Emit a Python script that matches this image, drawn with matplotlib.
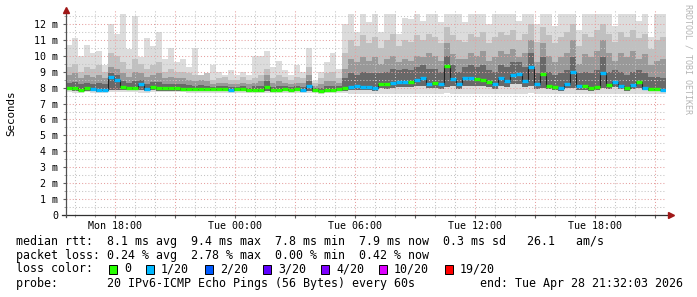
import numpy as np
import pandas as pd
import matplotlib
matplotlib.use('Agg')
import matplotlib.pyplot as plt
import matplotlib.dates as mdates
from matplotlib.ticker import MultipleLocator, FuncFormatter
from matplotlib.patches import Rectangle

plt.rcParams['font.family'] = 'DejaVu Sans Mono'

# time range of the graph: 100 steps of 18 minutes
start = pd.Timestamp('2026-04-27 15:32')
step = '18min'

# median rtt per step (ms)
median = [8.00, 7.95, 7.88, 7.95, 7.90, 7.85, 7.88, 8.65, 8.50, 8.05,
          7.98, 7.98, 8.25, 7.92, 8.05, 7.95, 7.95, 7.95, 7.95, 7.93,
          7.90, 7.93, 7.90, 7.90, 7.90, 7.92, 7.90, 7.88, 7.90, 7.90,
          7.85, 7.88, 7.85, 8.07, 7.85, 7.88, 7.90, 7.88, 7.90, 7.85,
          8.12, 7.85, 7.82, 7.85, 7.85, 7.92, 8.00, 8.05, 8.10, 8.05,
          8.05, 7.97, 8.22, 8.20, 8.30, 8.38, 8.35, 8.33, 8.50, 8.60,
          8.22, 8.30, 8.20, 9.38, 8.55, 8.20, 8.60, 8.62, 8.55, 8.50,
          8.35, 8.20, 8.62, 8.42, 8.80, 8.88, 8.45, 9.27, 8.20, 8.87,
          8.12, 8.05, 8.00, 8.24, 8.97, 8.10, 8.10, 7.95, 8.05, 8.92,
          8.15, 8.35, 8.12, 7.95, 8.15, 8.33, 8.00, 7.92, 7.92, 7.88]

# lost pings (out of 20) per step
loss = [0, 0, 0, 0, 1, 1, 1, 1, 1, 0,
        0, 0, 1, 1, 0, 0, 0, 0, 0, 0,
        0, 0, 0, 0, 0, 0, 0, 1, 0, 0,
        0, 0, 0, 0, 0, 0, 0, 0, 0, 1,
        1, 0, 0, 0, 0, 0, 0, 1, 1, 1,
        1, 1, 0, 0, 1, 1, 1, 0, 1, 1,
        1, 0, 1, 0, 1, 1, 1, 1, 0, 0,
        0, 1, 1, 1, 1, 1, 1, 1, 1, 0,
        0, 0, 1, 1, 1, 1, 0, 0, 0, 1,
        0, 1, 1, 0, 1, 0, 1, 0, 0, 1]

# smoke: slowest ping, percentiles, fastest ping (ms)
ping_max = [10.7, 11.15, 10.0, 10.7, 10.2, 10.3, 9.4, 12.0, 11.4, 12.6,
            10.4, 12.5, 9.9, 11.1, 10.6, 11.5, 9.8, 10.5, 9.6, 9.8,
            9.3, 10.5, 8.6, 8.9, 9.4, 9.0, 8.8, 9.1, 8.8, 9.0,
            8.8, 10.0, 10.0, 10.3, 9.3, 9.7, 9.1, 8.8, 9.4, 9.0,
            10.5, 8.4, 9.0, 9.6, 10.2, 9.2, 12.0, 12.6, 11.5, 12.6,
            12.1, 12.6, 11.5, 12.6, 12.6, 11.4, 12.4, 12.3, 12.6, 12.2,
            12.6, 12.6, 12.1, 12.6, 12.6, 12.6, 12.1, 12.6, 12.6, 12.6,
            12.0, 12.6, 12.6, 12.6, 12.6, 12.2, 12.6, 12.6, 12.0, 12.6,
            12.6, 11.9, 12.6, 12.6, 12.6, 11.6, 12.6, 12.6, 12.6, 12.6,
            12.6, 11.9, 12.6, 12.6, 12.6, 12.2, 12.6, 11.2, 12.6, 12.6]

ping_p90 = [9.3, 9.5, 9.0, 9.3, 9.2, 9.4, 9.0, 10.2, 10.0, 9.6,
            9.2, 9.8, 9.5, 9.2, 9.4, 9.6, 9.0, 9.2, 9.0, 9.0,
            8.9, 8.8, 8.8, 8.9, 8.5, 8.6, 8.7, 8.5, 8.5, 8.7,
            8.5, 8.6, 8.8, 9.2, 8.6, 8.8, 8.7, 8.5, 8.7, 8.6,
            9.3, 8.3, 8.6, 8.9, 9.0, 8.6, 10.2, 11.0, 10.6, 11.3,
            10.8, 11.2, 10.5, 11.0, 11.4, 10.6, 11.0, 10.9, 11.3, 11.0,
            11.4, 11.2, 10.8, 11.8, 11.3, 11.0, 10.9, 11.4, 11.2, 11.5,
            10.8, 11.2, 11.5, 11.3, 11.6, 11.0, 11.4, 12.0, 10.9, 11.8,
            11.3, 10.8, 11.2, 11.5, 12.0, 10.6, 11.4, 11.2, 11.6, 12.0,
            11.4, 10.9, 11.5, 11.2, 11.6, 11.1, 11.4, 10.4, 11.0, 11.2]

ping_p75 = [8.8, 8.9, 8.6, 8.8, 8.7, 8.8, 8.6, 9.3, 9.2, 8.9,
            8.7, 9.0, 8.9, 8.7, 8.8, 8.9, 8.6, 8.7, 8.6, 8.6,
            8.5, 8.4, 8.5, 8.4, 8.2, 8.3, 8.3, 8.2, 8.2, 8.3,
            8.2, 8.3, 8.4, 8.8, 8.3, 8.4, 8.3, 8.2, 8.3, 8.3,
            8.8, 8.1, 8.2, 8.4, 8.4, 8.3, 9.2, 9.8, 9.6, 9.9,
            9.7, 9.9, 9.5, 9.8, 10.0, 9.6, 9.8, 9.7, 10.0, 9.9,
            10.2, 10.0, 9.7, 10.8, 10.1, 9.8, 9.8, 10.2, 10.0, 10.3,
            9.7, 9.9, 10.3, 10.1, 10.4, 9.9, 10.2, 11.0, 9.6, 10.8,
            10.0, 9.6, 9.9, 10.2, 11.0, 9.5, 10.1, 9.9, 10.3, 11.0,
            10.2, 9.7, 10.2, 9.9, 10.3, 9.8, 10.1, 9.4, 9.7, 9.8]

ping_p60 = [8.3, 8.35, 8.2, 8.3, 8.25, 8.3, 8.2, 8.9, 8.8, 8.4,
            8.3, 8.4, 8.5, 8.25, 8.35, 8.35, 8.2, 8.25, 8.2, 8.2,
            8.15, 8.1, 8.15, 8.1, 8.05, 8.1, 8.1, 8.05, 8.05, 8.1,
            8.0, 8.1, 8.1, 8.4, 8.05, 8.1, 8.1, 8.05, 8.1, 8.05,
            8.4, 8.0, 8.0, 8.1, 8.1, 8.1, 8.6, 8.9, 8.8, 9.0,
            8.9, 8.9, 8.9, 9.0, 9.2, 9.1, 9.2, 9.1, 9.3, 9.4,
            9.2, 9.2, 9.0, 10.0, 9.4, 9.0, 9.3, 9.4, 9.3, 9.4,
            9.1, 9.0, 9.4, 9.3, 9.6, 9.6, 9.3, 10.2, 8.9, 9.9,
            9.0, 8.8, 8.9, 9.1, 9.9, 8.9, 9.0, 8.9, 9.1, 9.9,
            9.0, 9.1, 9.0, 8.8, 9.0, 9.1, 8.9, 8.7, 8.7, 8.6]

ping_p25 = [7.84, 7.80, 7.76, 7.80, 7.78, 7.74, 7.76, 7.86, 7.84, 7.86,
            7.84, 7.84, 7.84, 7.78, 7.86, 7.82, 7.82, 7.82, 7.82, 7.80,
            7.78, 7.80, 7.78, 7.78, 7.78, 7.80, 7.78, 7.76, 7.78, 7.78,
            7.74, 7.76, 7.74, 7.78, 7.74, 7.76, 7.78, 7.76, 7.78, 7.74,
            7.78, 7.74, 7.72, 7.74, 7.74, 7.78, 7.82, 7.84, 7.86, 7.84,
            7.84, 7.80, 7.96, 7.94, 8.00, 8.06, 8.04, 8.02, 8.10, 8.12,
            7.96, 8.00, 7.94, 8.04, 8.10, 7.94, 8.12, 8.12, 8.10, 8.08,
            8.02, 7.94, 8.12, 8.06, 8.20, 8.22, 8.06, 8.10, 7.94, 8.00,
            7.90, 7.86, 7.82, 7.96, 8.00, 7.88, 7.88, 7.80, 7.86, 7.96,
            7.92, 8.02, 7.90, 7.80, 7.92, 8.00, 7.84, 7.78, 7.78, 7.76]

ping_min = [7.70, 7.68, 7.66, 7.70, 7.66, 7.64, 7.66, 7.72, 7.70, 7.70,
            7.70, 7.70, 7.68, 7.66, 7.70, 7.70, 7.70, 7.70, 7.70, 7.70,
            7.68, 7.68, 7.68, 7.68, 7.68, 7.68, 7.68, 7.66, 7.68, 7.68,
            7.66, 7.66, 7.66, 7.68, 7.66, 7.66, 7.66, 7.66, 7.66, 7.64,
            7.66, 7.64, 7.62, 7.64, 7.64, 7.66, 7.64, 7.62, 7.62, 7.62,
            7.62, 7.60, 7.62, 7.62, 7.62, 7.62, 7.62, 7.62, 7.62, 7.62,
            7.60, 7.62, 7.60, 7.64, 7.62, 7.60, 7.62, 7.62, 7.62, 7.62,
            7.62, 7.60, 7.62, 7.62, 7.62, 7.62, 7.60, 7.64, 7.60, 7.62,
            7.60, 7.60, 7.60, 7.60, 7.62, 7.60, 7.60, 7.60, 7.60, 7.62,
            7.60, 7.60, 7.60, 7.60, 7.60, 7.60, 7.60, 7.60, 7.60, 7.60]

loss_labels = ['0', '1/20', '2/20', '3/20', '4/20', '10/20', '19/20']
loss_counts = [0, 1, 2, 3, 4, 10, 19]
loss_colors = ['#26ff00', '#00b8ff', '#0059ff', '#5e00ff', '#7e00ff', '#dd00ff', '#ff0000']

stats_rtt = 'median rtt:  8.1 ms avg  9.4 ms max  7.8 ms min  7.9 ms now  0.3 ms sd   26.1   am/s'
stats_loss = 'packet loss: 0.24 % avg  2.78 % max  0.00 % min  0.42 % now'
probe_text = 'probe:       20 IPv6-ICMP Echo Pings (56 Bytes) every 60s'
end_text = 'end: Tue Apr 28 21:32:03 2026'

# ---- figure ----
W, H = 697, 297
fig = plt.figure(figsize=(W / 100, H / 100), dpi=100)
fig.patch.set_facecolor('white')
ax = fig.add_axes([66 / W, 1 - 215 / H, 600 / W, 205 / H])

t = pd.date_range(start, periods=len(median) + 1, freq=step)
tn = mdates.date2num(t)

def ext(v):
    return list(v) + [v[-1]]

# smoke layers, light to dark
ax.fill_between(tn, ext(ping_min), ext(ping_max), step='post', color='#dcdcdc', lw=0, zorder=1)
ax.fill_between(tn, ext(ping_p25), ext(ping_p90), step='post', color='#c0c0c0', lw=0, zorder=1)
ax.fill_between(tn, ext(ping_p25), ext(ping_p75), step='post', color='#999999', lw=0, zorder=1)
ax.fill_between(tn, ext(ping_p25), ext(ping_p60), step='post', color='#686868', lw=0, zorder=1)

# median: thin dark step line plus thick loss-coloured segments
ax.step(tn, ext(median), where='post', color='#202020', lw=0.8, zorder=3)
seg_colors = [loss_colors[loss_counts.index(l)] for l in loss]
ax.hlines(median, tn[:-1], tn[1:], colors=seg_colors, lw=2.4, zorder=4)

ax.set_xlim(tn[0], tn[-1])
ax.set_ylim(0, 205 / 15.917)

ax.xaxis.set_major_locator(mdates.HourLocator(byhour=range(0, 24, 3)))
ax.xaxis.set_minor_locator(mdates.HourLocator())
ax.xaxis.set_major_formatter(FuncFormatter(
    lambda x, p: mdates.num2date(x).strftime('%a %H:%M') if mdates.num2date(x).hour % 6 == 0 else ''))
ax.yaxis.set_major_locator(MultipleLocator(1))
ax.yaxis.set_minor_locator(MultipleLocator(0.5))
ax.yaxis.set_major_formatter(FuncFormatter(lambda v, p: '0' if v == 0 else '%d m' % v))

ax.set_axisbelow(False)
ax.grid(which='major', color='#e6a0a0', ls=(0, (1, 2)), lw=0.75)
ax.grid(which='minor', color='#c4c4c4', ls=(0, (1, 2)), lw=0.75)

ax.tick_params(which='major', length=2.5, color='#606060', labelsize=7.2, pad=2)
ax.tick_params(which='minor', length=1.5, color='#909090')
ax.tick_params(axis='y', pad=3)

for s in ax.spines.values():
    s.set_visible(False)
ax.plot([-0.007, 1.007], [0, 0], transform=ax.transAxes, color='#303030', lw=0.9, clip_on=False, zorder=5)
ax.plot([0, 0], [-0.012, 1.0], transform=ax.transAxes, color='#505050', lw=0.9, clip_on=False, zorder=5)
ax.plot([1.008], [0], marker='>', ms=4, color='#a01818', transform=ax.transAxes, clip_on=False, zorder=6)
ax.plot([0], [1.0], marker='^', ms=4, color='#a01818', transform=ax.transAxes, clip_on=False, zorder=6)

fig.text(11 / W, 1 - 113 / H, 'Seconds', rotation=90, ha='center', va='center', fontsize=7.8)
fig.text(688 / W, 1 - 4 / H, 'RRDTOOL / TOBI OETIKER', rotation=270, ha='center', va='top',
         fontsize=6, color='#b4b4b4')

# legend block
fs = 8.4
fig.text(16 / W, 1 - 241.5 / H, stats_rtt, va='center', fontsize=fs)
fig.text(16 / W, 1 - 255.3 / H, stats_loss, va='center', fontsize=fs)
fig.text(16 / W, 1 - 269 / H, 'loss color:', va='center', fontsize=fs)
box_x = [109, 146, 205, 263, 321, 379, 445]
for bx, lab, col in zip(box_x, loss_labels, loss_colors):
    fig.patches.append(Rectangle((bx / W, 1 - 273.5 / H), 8 / W, 9 / H, transform=fig.transFigure,
                                 facecolor=col, edgecolor='black', lw=0.7))
    fig.text((bx + 15) / W, 1 - 269 / H, lab, va='center', fontsize=fs)
fig.text(16 / W, 1 - 283 / H, probe_text, va='center', fontsize=fs)
fig.text(683 / W, 1 - 283 / H, end_text, va='center', ha='right', fontsize=fs)

fig.savefig('out.png', dpi=100, facecolor='white')
